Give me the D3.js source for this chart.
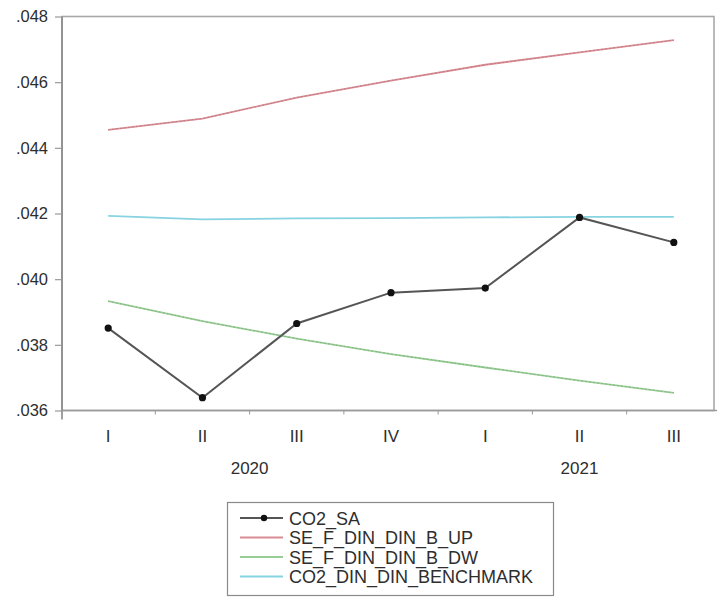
<!DOCTYPE html>
<html>
<head>
<meta charset="utf-8">
<script src="https://cdn.jsdelivr.net/npm/d3@7/dist/d3.min.js"></script>
<style>
  html, body { margin: 0; padding: 0; background: #fff; }
  svg text { font-family: "Liberation Sans", Arial, sans-serif; fill: #2e2e2e; }
</style>
</head>
<body>
<svg id="chart" width="717" height="601"></svg>
<script>
// Quarterly observations, 2020Q1 – 2021Q3
const quarters = ["I", "II", "III", "IV", "I", "II", "III"];
const years    = ["2020", "2020", "2020", "2020", "2021", "2021", "2021"];

const co2SA     = [0.03851, 0.03639, 0.03865, 0.03959, 0.03973, 0.04188, 0.04112];
const bandUp    = [0.04455, 0.04489, 0.04553, 0.04605, 0.04653, 0.04691, 0.04728];
const bandDw    = [0.03933, 0.03872, 0.03819, 0.03772, 0.03731, 0.03691, 0.03654];
const benchmark = [0.04193, 0.04182, 0.04185, 0.04186, 0.04188, 0.04190, 0.04190];

const yTicks = [0.036, 0.038, 0.040, 0.042, 0.044, 0.046, 0.048];

const seriesNames  = ["CO2_SA", "SE_F_DIN_DIN_B_UP", "SE_F_DIN_DIN_B_DW", "CO2_DIN_DIN_BENCHMARK"];
const seriesColors = ["#555555", "#d98c94", "#98cd95", "#88d3e2"];

const svg = d3.select("#chart");

// Frame of the plotting area
const frame = { left: 62, right: 714, top: 16.5, bottom: 410.5 };

const idx = d3.range(quarters.length);
const x = d3.scalePoint()
  .domain(idx)
  .range([frame.left, frame.right + 6])
  .padding(0.49);

const y = d3.scaleLinear()
  .domain([0.036, 0.048])
  .range([frame.bottom, frame.top]);

// Box around the plot
svg.append("rect")
  .attr("x", frame.left).attr("y", frame.top)
  .attr("width", frame.right - frame.left)
  .attr("height", frame.bottom - frame.top)
  .attr("fill", "none").attr("stroke", "#a8a8a8").attr("stroke-width", 1.6);

// Left axis
const fmt = v => d3.format(".3f")(v).replace(/^0/, "");
const yAxis = d3.axisLeft(y).tickValues(yTicks).tickFormat(fmt)
  .tickSizeInner(7).tickSizeOuter(0).tickPadding(7);
const gy = svg.append("g").attr("transform", `translate(${frame.left},0)`).call(yAxis);
gy.select(".domain").attr("stroke", "#8a8a8a").attr("stroke-width", 1.6)
  .attr("d", `M0,${frame.top}V${frame.bottom + 9}`);
gy.selectAll(".tick line").attr("stroke", "#9a9a9a").attr("stroke-width", 1.2);
gy.selectAll(".tick text").attr("font-size", 16.5).attr("fill", "#2e2e2e");

// Bottom axis: short ticks between quarters, labels at quarters
const step = x.step();
const gx = svg.append("g");
gx.append("line")
  .attr("x1", frame.left).attr("x2", 717)
  .attr("y1", frame.bottom).attr("y2", frame.bottom)
  .attr("stroke", "#9a9a9a").attr("stroke-width", 1.6);
gx.selectAll("line.sep").data(idx).join("line")
  .attr("class", "sep")
  .attr("x1", i => x(i) + step / 2).attr("x2", i => x(i) + step / 2)
  .attr("y1", frame.bottom).attr("y2", frame.bottom + 4)
  .attr("stroke", "#9a9a9a").attr("stroke-width", 1);
gx.selectAll("text.q").data(idx).join("text")
  .attr("class", "q")
  .attr("x", i => x(i)).attr("y", 442)
  .attr("text-anchor", "middle").attr("font-size", 17)
  .text(i => quarters[i]);

// Year labels centred under their quarters
const yearGroups = d3.groups(idx, i => years[i]);
gx.selectAll("text.yr").data(yearGroups).join("text")
  .attr("class", "yr")
  .attr("x", d => d3.mean(d[1], i => x(i))).attr("y", 474)
  .attr("text-anchor", "middle").attr("font-size", 17)
  .text(d => d[0]);

// Series lines
const line = d3.line().x((d, i) => x(i)).y(d => y(d));
const allSeries = [co2SA, bandUp, bandDw, benchmark];
const widths = [2, 1.8, 1.8, 1.8];

// draw bands first, then the observed series on top
[3, 2, 1, 0].forEach(k => {
  svg.append("path")
    .datum(allSeries[k])
    .attr("d", line)
    .attr("fill", "none")
    .attr("stroke", seriesColors[k])
    .attr("stroke-width", widths[k]);
});
// darker dotted texture on the band lines
[1, 2].forEach(k => {
  svg.append("path")
    .datum(allSeries[k])
    .attr("d", line)
    .attr("fill", "none")
    .attr("stroke", k === 1 ? "#a86a70" : "#6e9e6b")
    .attr("stroke-width", 1)
    .attr("stroke-dasharray", "1.5,2.5")
    .attr("opacity", 0.6);
});

svg.append("g").selectAll("circle").data(co2SA).join("circle")
  .attr("cx", (d, i) => x(i)).attr("cy", d => y(d))
  .attr("r", 3.6).attr("fill", "#111");

// Legend
const lg = svg.append("g");
lg.append("rect")
  .attr("x", 227.5).attr("y", 502.5).attr("width", 326).attr("height", 93)
  .attr("fill", "#fff").attr("stroke", "#8a8a8a").attr("stroke-width", 1.2);
const rowY = i => 518 + i * 19.5;
seriesNames.forEach((name, i) => {
  lg.append("line")
    .attr("x1", 240).attr("x2", 283)
    .attr("y1", rowY(i)).attr("y2", rowY(i))
    .attr("stroke", seriesColors[i]).attr("stroke-width", 2);
  if (i === 0) {
    lg.append("circle").attr("cx", 264).attr("cy", rowY(i)).attr("r", 3.2).attr("fill", "#111");
  }
  lg.append("text")
    .attr("x", 289).attr("y", rowY(i) + 6.5)
    .attr("font-size", 18)
    .text(name);
});
</script>
</body>
</html>
